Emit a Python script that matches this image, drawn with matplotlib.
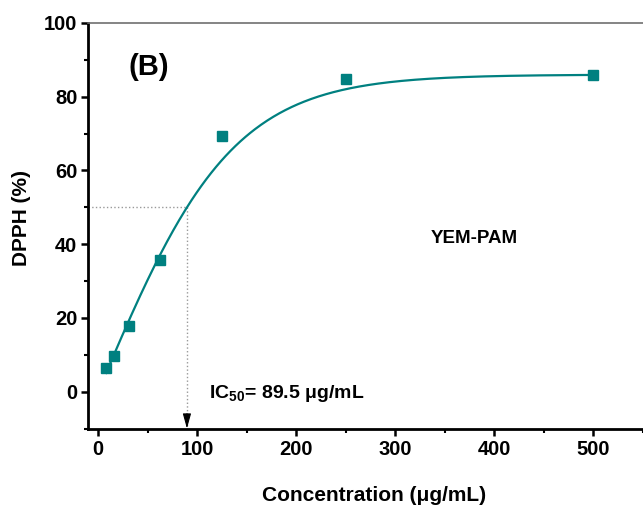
import numpy as np
import matplotlib
matplotlib.use('Agg')
import matplotlib.pyplot as plt
from matplotlib.ticker import MultipleLocator

plt.rcParams['font.family'] = ['Liberation Sans', 'DejaVu Sans']
plt.rcParams['mathtext.fontset'] = 'custom'
plt.rcParams['mathtext.rm'] = 'Liberation Sans'
plt.rcParams['mathtext.bf'] = 'Liberation Sans:bold'

# measured points
conc = [7.8, 15.6, 31.25, 62.5, 125, 250, 500]
dpph = [6.3, 9.7, 17.9, 35.7, 69.3, 84.8, 85.9]

# sigmoid fit (Boltzmann)
A2, B, x0, dx = 86.0, 165.0, 5.3, 66.0
ic50 = 89.5

teal = '#008080'

fig = plt.figure(figsize=(6.43, 5.08), dpi=100)
ax = fig.add_axes([88.4/643, 1-428.5/508, (643-88.4)/643, (428.5-23)/508])

xs = np.linspace(min(conc), max(conc), 400)
ys = A2 - B/(1+np.exp((xs-x0)/dx))
ax.plot(xs, ys, color=teal, lw=1.6, zorder=3)
ax.plot(conc, dpph, 's', color=teal, ms=7, zorder=4)

ax.set_xlim(-10, 550)
ax.set_ylim(-10, 100)

# IC50 guide lines
ax.plot([-10, ic50], [50, 50], ls=':', color='#999999', lw=1)
ax.plot([ic50, ic50], [50, -10], ls=':', color='#999999', lw=1)
ax.annotate('', xy=(ic50, -10), xytext=(ic50, -6),
            arrowprops=dict(arrowstyle='-|>,head_width=0.25,head_length=0.9',
                            color='black', lw=0.8, shrinkA=0, shrinkB=0))

ax.xaxis.set_major_locator(MultipleLocator(100))
ax.xaxis.set_minor_locator(MultipleLocator(50))
ax.yaxis.set_major_locator(MultipleLocator(20))
ax.yaxis.set_minor_locator(MultipleLocator(10))
ax.tick_params(which='major', direction='out', length=5, width=1.8,
               labelsize=14.5, pad=3)
ax.tick_params(which='minor', direction='out', length=3, width=1.5)
ax.tick_params(top=False, right=False, which='both')
for lab in ax.get_xticklabels() + ax.get_yticklabels():
    lab.set_fontweight('bold')

ax.spines['right'].set_visible(False)
ax.spines['top'].set_color('#707070')
ax.spines['top'].set_linewidth(1.2)
ax.spines['left'].set_linewidth(2)
ax.spines['bottom'].set_linewidth(2)

ax.set_xlabel('Concentration (\u03bcg/mL)', fontsize=15, fontweight='bold')
ax.set_ylabel('DPPH (%)', fontsize=15, fontweight='bold')
ax.xaxis.set_label_coords(0.515, -0.142)
ax.yaxis.set_label_coords(-0.1035, 0.52)

ax.text(30, 88, '(B)', fontsize=21, fontweight='bold', va='center')
ax.text(380, 41.5, 'YEM-PAM', fontsize=13.5, fontweight='bold', ha='center', va='center')
ax.text(112, -0.5, 'IC$_{\\mathbf{50}}$= 89.5 \u03bcg/mL',
        fontsize=14, fontweight='bold', va='center')

fig.savefig('out.png', dpi=100)
